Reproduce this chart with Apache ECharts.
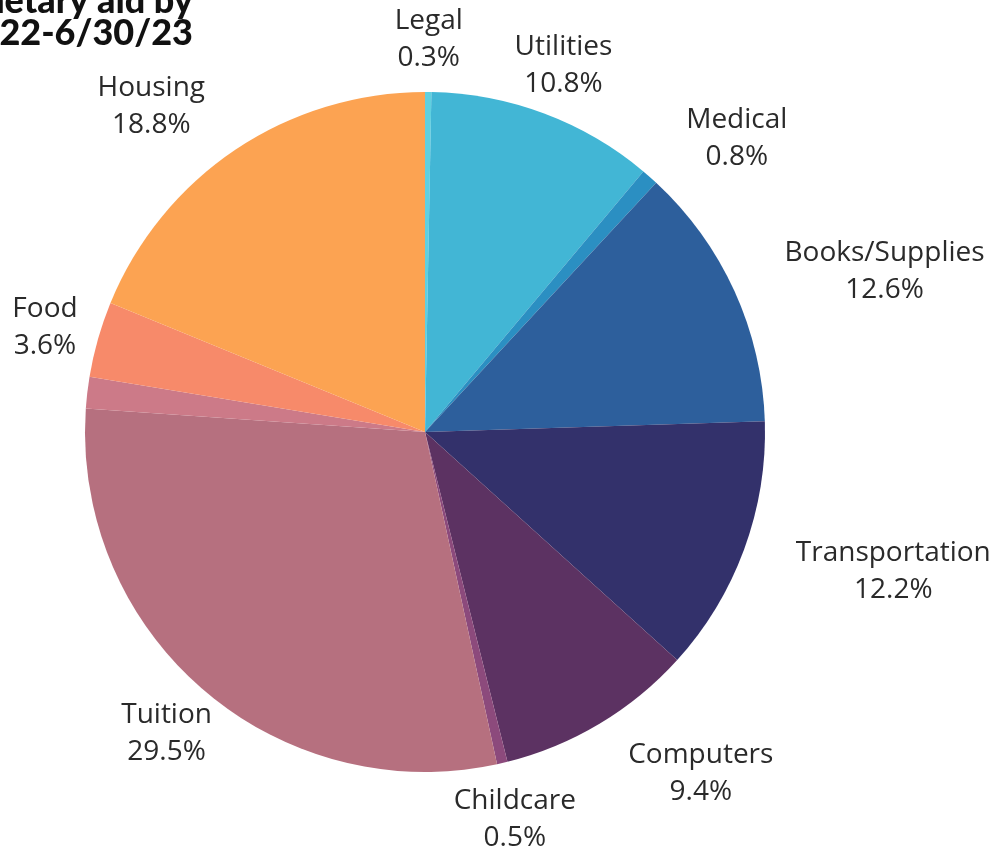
<!DOCTYPE html>
<html>
<head>
<meta charset="utf-8">
<script src="https://cdn.jsdelivr.net/npm/echarts@6/dist/echarts.min.js"></script>
<style>
  html, body { margin: 0; padding: 0; background: #ffffff; }
  #chart { width: 1000px; height: 850px; }
</style>
</head>
<body>
<div id="chart"></div>
<script>
// Data (percent of monetary aid), clockwise from the top
var categories = ['Legal', 'Utilities', 'Medical', 'Books/Supplies', 'Transportation', 'Computers', 'Childcare', 'Tuition', 'Other', 'Food', 'Housing'];
var values = [0.3, 10.8, 0.8, 12.6, 12.2, 9.4, 0.5, 29.5, 1.5, 3.6, 18.8];
var showLabel = [true, true, true, true, true, true, true, true, false, true, true];
var titleLines = ['Monetary aid by', '7/1/22-6/30/23'];

// Styles
var colors = ['#5fd0e0', '#42b6d5', '#2b8fc2', '#2d5f9c', '#33316b', '#5c3262', '#8c4a7c', '#b6707f', '#cc7a88', '#f78a6a', '#fca352'];
var labelSide = { 'Medical': 1, 'Books/Supplies': 1, 'Transportation': 1, 'Computers': 1, 'Housing': -1 };

var chart = echarts.init(document.getElementById('chart'), null, { renderer: 'canvas' });

var CX = 425, CY = 432, R = 340, LABEL_R = 395, LABEL_DY = 3;
var total = values.reduce(function (a, b) { return a + b; }, 0);
var midAngles = [];
(function () {
  var acc = 0;
  for (var i = 0; i < values.length; i++) {
    midAngles.push(((acc + values[i] / 2) / total) * Math.PI * 2);
    acc += values[i];
  }
})();

var seriesData = categories.map(function (name, i) {
  return {
    name: name,
    value: values[i],
    itemStyle: { color: colors[i] },
    label: { show: showLabel[i] }
  };
});

var option = {
  animation: false,
  backgroundColor: '#ffffff',
  graphic: [{
    type: 'text',
    x: 193,
    y: -15,
    style: {
      text: titleLines.join('\n'),
      textAlign: 'right',
      textVerticalAlign: 'top',
      font: '900 36px Lato',
      lineHeight: 32,
      fill: '#111111'
    }
  }],
  series: [{
    type: 'pie',
    center: [CX, CY],
    radius: [0, R],
    startAngle: 90,
    clockwise: true,
    avoidLabelOverlap: false,
    data: seriesData,
    itemStyle: { borderWidth: 0 },
    label: {
      position: 'outside',
      formatter: function (p) { return p.name + '\n' + p.value.toFixed(1) + '%'; },
      fontFamily: 'Open Sans',
      fontSize: 28,
      lineHeight: 37,
      color: '#2a2a2a',
      align: 'center'
    },
    labelLine: { show: false },
    labelLayout: function (params) {
      var a = midAngles[params.dataIndex];
      var name = categories[params.dataIndex];
      var side = labelSide[name] || 0;
      var hw = params.labelRect.width / 2;
      return {
        x: CX + LABEL_R * Math.sin(a) + side * hw,
        y: CY - LABEL_R * Math.cos(a) + LABEL_DY,
        align: 'center',
        verticalAlign: 'middle'
      };
    },
    emphasis: { disabled: true }
  }]
};

chart.setOption(option);
</script>
</body>
</html>
